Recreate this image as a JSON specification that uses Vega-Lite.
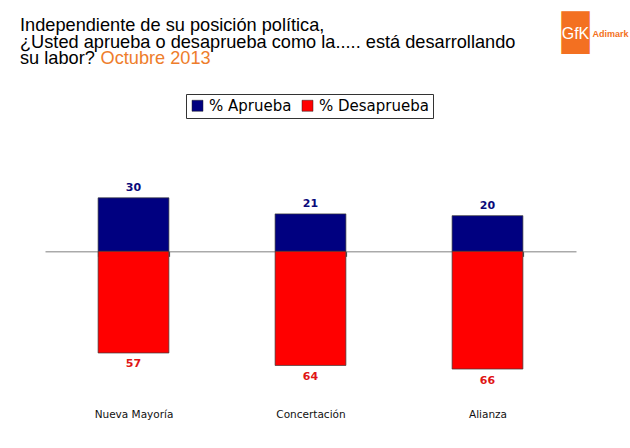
{
  "$schema": "https://vega.github.io/schema/vega-lite/v6.json",
  "width": 531,
  "height": 214,
  "autosize": {"type": "none"},
  "padding": {"left": 45, "top": 180, "right": 54, "bottom": 54},
  "background": "white",
  "title": {
    "text": ["Independiente de su posición política,", "¿Usted aprueba o desaprueba como la..... está desarrollando", "su labor?"],
    "anchor": "start",
    "frame": "group",
    "orient": "top",
    "dx": -25,
    "dy": 53,
    "offset": 0,
    "font": "Liberation Sans",
    "fontSize": 18.2,
    "fontWeight": "normal",
    "color": "#000000",
    "lineHeight": 16.5
  },
  "config": {"view": {"stroke": null}},
  "data": {
    "values": [
      {"partido": "Nueva Mayoría", "serie": "% Aprueba", "valor": 30},
      {"partido": "Nueva Mayoría", "serie": "% Desaprueba", "valor": -57},
      {"partido": "Concertación", "serie": "% Aprueba", "valor": 21},
      {"partido": "Concertación", "serie": "% Desaprueba", "valor": -64},
      {"partido": "Alianza", "serie": "% Aprueba", "valor": 20},
      {"partido": "Alianza", "serie": "% Desaprueba", "valor": -66}
    ]
  },
  "resolve": {"axis": {"x": "independent", "y": "independent"}},
  "layer": [
    {
      "mark": {"type": "bar", "stroke": "#3a3a3a", "strokeWidth": 0.7},
      "encoding": {
        "x": {
          "field": "partido",
          "type": "nominal",
          "sort": ["Nueva Mayoría", "Concertación", "Alianza"],
          "scale": {"paddingInner": 0.6, "paddingOuter": 0.3},
          "axis": {
            "orient": "bottom",
            "offset": -142.67,
            "labelAngle": 0,
            "labelFont": "DejaVu Sans",
            "labelFontSize": 10.5,
            "labelColor": "#111111",
            "labelPadding": 153,
            "ticks": true,
            "tickBand": "extent",
            "tickExtra": true,
            "tickSize": 5,
            "tickWidth": 1.2,
            "tickOpacity": 1,
            "tickColor": "#555555",
            "domainColor": "#808080",
            "domainWidth": 1,
            "zindex": 0,
            "title": "Adimark",
            "titleFont": "Liberation Sans",
            "titleFontSize": 9,
            "titleFontWeight": "bold",
            "titleColor": "#F37021",
            "titleAlign": "left",
            "titleBaseline": "alphabetic",
            "titleX": 547,
            "titleY": -215.3
          }
        },
        "y": {
          "field": "valor",
          "type": "quantitative",
          "scale": {"domain": [-80, 40]},
          "axis": {
            "orient": "left",
            "labels": false,
            "ticks": false,
            "domain": false,
            "grid": false,
            "title": "Octubre 2013",
            "titleAngle": 0,
            "titleFont": "Liberation Sans",
            "titleFontSize": 18.2,
            "titleFontWeight": "normal",
            "titleColor": "#EE7D2B",
            "titleAlign": "left",
            "titleBaseline": "alphabetic",
            "titleX": 55,
            "titleY": -117
          }
        },
        "color": {
          "field": "serie",
          "type": "nominal",
          "scale": {"domain": ["% Aprueba", "% Desaprueba"], "range": ["#000080", "#FF0000"]},
          "legend": {
            "orient": "none",
            "legendX": 141,
            "legendY": -86,
            "direction": "horizontal",
            "title": null,
            "strokeColor": "#333333",
            "padding": 4,
            "symbolType": "square",
            "symbolSize": 121,
            "symbolStrokeColor": "#222222",
            "symbolStrokeWidth": 0.5,
            "symbolOpacity": 1,
            "labelFont": "DejaVu Sans",
            "labelFontSize": 15,
            "labelColor": "#000000",
            "labelOffset": 4,
            "columnPadding": 8,
            "fillColor": "white"
          }
        }
      }
    },
    {
      "mark": {
        "type": "text",
        "font": "DejaVu Sans",
        "fontSize": 11,
        "fontWeight": "bold",
        "baseline": "middle",
        "text": {"expr": "abs(datum.valor)"},
        "dy": {"expr": "datum.valor > 0 ? -10 : 11.5"},
        "fill": {"expr": "datum.valor > 0 ? '#0a0a7a' : '#e01515'"}
      },
      "encoding": {
        "x": {
          "field": "partido",
          "type": "nominal",
          "sort": ["Nueva Mayoría", "Concertación", "Alianza"],
          "axis": {
            "orient": "top",
            "labels": false,
            "ticks": false,
            "domain": false,
            "title": "GfK",
            "titleFont": "Liberation Sans",
            "titleFontSize": 16,
            "titleFontWeight": "normal",
            "titleColor": "#FFFFFF",
            "titleAlign": "center",
            "titleBaseline": "alphabetic",
            "titleX": 530,
            "titleY": -142,
            "zindex": 3
          }
        },
        "y": {
          "field": "valor",
          "type": "quantitative",
          "axis": {
            "orient": "right",
            "labels": false,
            "ticks": false,
            "domain": false,
            "grid": false,
            "title": "█",
            "titleAngle": 0,
            "titleFont": "DejaVu Sans",
            "titleFontSize": 36,
            "titleFontWeight": "normal",
            "titleColor": "#F37021",
            "titleAlign": "center",
            "titleBaseline": "alphabetic",
            "titleX": -1,
            "titleY": -135.5,
            "zindex": 2
          }
        }
      }
    }
  ]
}
